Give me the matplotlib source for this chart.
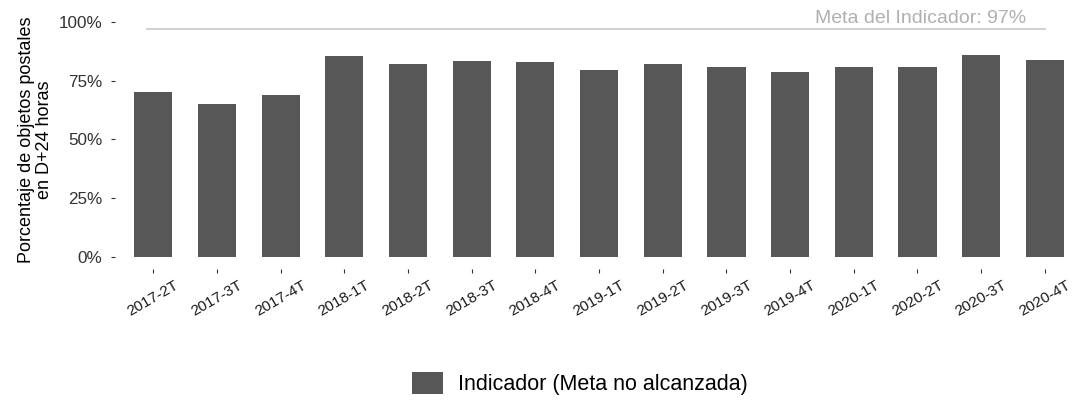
import numpy as np
import matplotlib
matplotlib.use("Agg")
import matplotlib.pyplot as plt
from matplotlib.ticker import PercentFormatter

# Quarterly share of postal items delivered within D+24 hours
trimestres = ["2017-2T", "2017-3T", "2017-4T",
              "2018-1T", "2018-2T", "2018-3T", "2018-4T",
              "2019-1T", "2019-2T", "2019-3T", "2019-4T",
              "2020-1T", "2020-2T", "2020-3T", "2020-4T"]
indicador = [0.70, 0.65, 0.69,
             0.855, 0.82, 0.835, 0.83,
             0.795, 0.82, 0.81, 0.785,
             0.81, 0.81, 0.86, 0.84]
meta = 0.97
y_ticks = [0, 0.25, 0.50, 0.75, 1.0]

plt.rcParams["font.family"] = ["Liberation Sans", "DejaVu Sans"]

fig = plt.figure(figsize=(10.72, 4.09), dpi=100)
ax = fig.add_axes([0.1073, 0.343, 0.903, 0.632])

x = np.arange(len(trimestres))
ax.bar(x, indicador, width=0.6, color="#575757",
       label="Indicador (Meta no alcanzada)")

# target line across the quarters
ax.plot([x[0] - 0.1, x[-1]], [meta, meta], color="#c8c8c8", lw=1.2)
ax.text(x[-1] - 0.3, meta + 0.01, f"Meta del Indicador: {meta:.0%}",
        ha="right", va="bottom", fontsize=14, color="#b0b0b0")

ax.set_xlim(-0.6, len(trimestres) - 0.4)
ax.set_ylim(-0.05, 1.05)
ax.set_xticks(x)
ax.set_xticklabels(trimestres, rotation=30, ha="center", va="top")
ax.set_yticks(y_ticks)
ax.yaxis.set_major_formatter(PercentFormatter(1.0, decimals=0))
ax.tick_params(axis="both", labelsize=11, colors="#333333",
               length=3, width=0.8, pad=4)
ax.tick_params(axis="y", labelsize=12.3, pad=6)
ax.tick_params(axis="x", labelcolor="#1a1a1a")
for s in ax.spines.values():
    s.set_visible(False)

ax.set_ylabel("Porcentaje de objetos postales\nen D+24 horas",
              fontsize=13, labelpad=4, linespacing=1.1)

fig.legend(loc="center", bbox_to_anchor=(0.541, 0.062), frameon=False,
           fontsize=15.5, handlelength=1.45, handleheight=1.2, handletextpad=0.7)

fig.savefig("out.png", dpi=100, facecolor="white")
